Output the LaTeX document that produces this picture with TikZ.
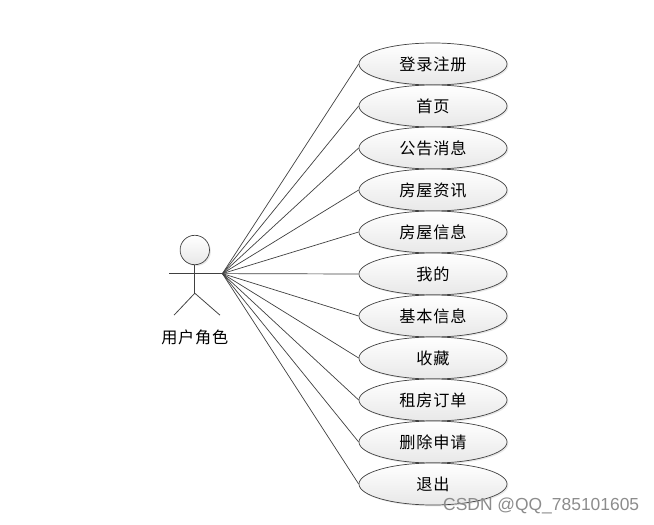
\documentclass[tikz,border=0pt]{standalone}
\usepackage{fontspec}
\setmainfont{Liberation Sans}
\newfontfamily\cjk[LetterSpace=5]{Noto Sans CJK SC}
\usetikzlibrary{positioning,shadows,shapes.geometric}
\definecolor{usecaseline}{RGB}{64,64,64}
\definecolor{usecasefill}{RGB}{232,232,232}
\tikzset{
  softshadow/.style={drop shadow={shadow xshift=1pt,shadow yshift=-1pt,fill=black!18,opacity=.5}},
  usecase/.style={ellipse,draw=usecaseline,line width=.5pt,top color=white,bottom color=usecasefill,
    minimum width=3.7cm,minimum height=1.05cm,inner sep=0pt,
    font=\cjk\fontsize{11.5}{13}\selectfont,text=black,softshadow},
  actorhead/.style={circle,draw=usecaseline,line width=.5pt,top color=white,bottom color=usecasefill,
    minimum size=.735cm,inner sep=0pt,softshadow},
  actorline/.style={draw=usecaseline,line width=.55pt},
  link/.style={draw=usecaseline,line width=.5pt},
}
\begin{document}
\begin{tikzpicture}
  \useasboundingbox (0,0) rectangle (16.35,13.1);
  \def\Xu{10.825}\def\Yu{11.5}\def\Du{1.05}
  % actor
  \node[actorhead] (head) at (4.87,6.85) {};
  \coordinate (armL) at (4.23,6.26);
  \coordinate (armR) at (5.56,6.26);
  \coordinate (hip) at (4.87,5.77);
  \coordinate (legL) at (4.35,5.22);
  \coordinate (legR) at (5.5,5.22);
  \draw[actorline] (head.south) -- (hip);
  \draw[actorline] (armL) -- (armR);
  \draw[actorline] (legL) -- (hip) -- (legR);
  \node[font=\cjk\fontsize{11.5}{13}\selectfont] (actorname) at (4.87,4.67) {用户角色};
  % use cases
  \foreach \i/\t in {0/登录注册,1/首页,2/公告消息,3/房屋资讯,4/房屋信息,5/我的,6/基本信息,7/收藏,8/租房订单,9/删除申请,10/退出}{
    \node[usecase] (uc\i) at (\Xu,\Yu-\i*\Du) {\t};
    \draw[link] (armR) -- (uc\i.west);
  }
  \node[text=black!45,font=\fontsize{12.4}{14}\selectfont] (mark) at (13.53,0.45) {CSDN @QQ\_785101605};
\end{tikzpicture}
\end{document}
